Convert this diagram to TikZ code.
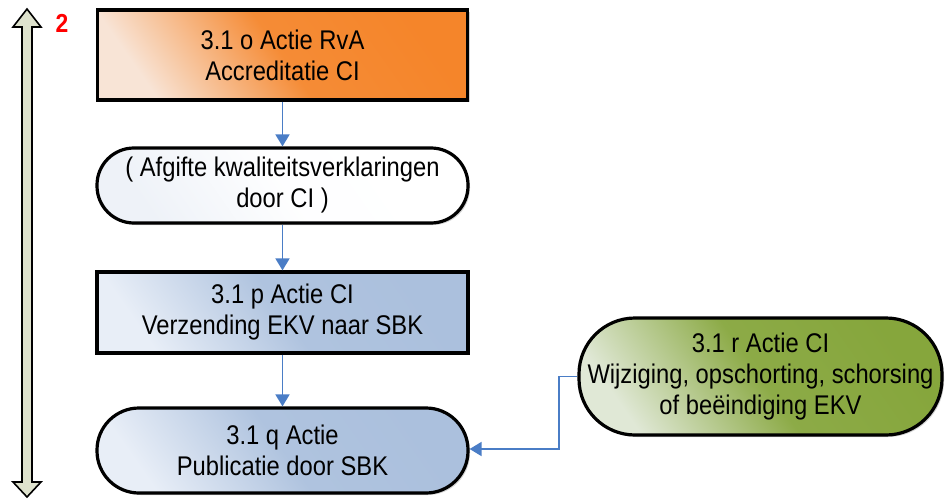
\documentclass[tikz,border=0pt]{standalone}
\usepackage{fontspec}
\setmainfont[FakeStretch=0.88]{Liberation Sans}
\usetikzlibrary{arrows.meta,shadows}
\definecolor{orangeD}{HTML}{F5852A}
\definecolor{orangeL}{HTML}{F8E4D6}
\definecolor{blueD}{HTML}{ABC0DD}
\definecolor{blueL}{HTML}{E8EEF7}
\definecolor{greenD}{HTML}{86A63C}
\definecolor{greenL}{HTML}{E0E8D6}
\definecolor{whiteL}{HTML}{EEF2F8}
\definecolor{conn}{HTML}{4A7DC6}
\definecolor{khaki}{HTML}{DEE2CD}
\tikzset{
  box/.style={draw=black, line width=3.2pt, align=center, inner sep=0pt,
    font=\fontsize{27}{31}\selectfont, text=black,
    drop shadow={shadow xshift=2pt, shadow yshift=-2pt, opacity=0.35}},
  stadium/.style={box, rounded corners=#1},
  flow/.style={draw=conn, line width=1.8pt, -{Triangle[width=14pt,length=12pt]}},
  diag/.style 2 args={left color=#1, right color=#2, middle color=#2!93!#1, shading angle=125},
}
\begin{document}
\begin{tikzpicture}[x=1pt,y=-1pt]
\useasboundingbox (0,0) rectangle (947,500);
% left double arrow
\draw[fill=khaki, line width=1.6pt, line join=miter]
  (27,9) -- (41,27) -- (32,27) -- (32,482) -- (41,482) -- (27,497)
  -- (13,482) -- (22,482) -- (22,27) -- (13,27) -- cycle;
\node[text=red, font=\bfseries\fontsize{26}{26}\selectfont] (num) at (62,23) {2};
% nodes
\node[box, minimum width=370, minimum height=90, diag={orangeL}{orangeD}] (o) at (282.5,55) {3.1 o Actie RvA\\Accreditatie CI};
\node[stadium=37pt, minimum width=371, minimum height=75, diag={whiteL}{white}] (ak) at (282.5,185.5) {( Afgifte kwaliteitsverklaringen\\door CI )};
\node[box, minimum width=371, minimum height=81, diag={blueL}{blueD}] (p) at (282.5,312.5) {3.1 p Actie CI\\Verzending EKV naar SBK};
\node[stadium=42pt, minimum width=371, minimum height=85, diag={blueL}{blueD}] (q) at (282.5,450.5) {3.1 q Actie\\Publicatie door SBK};
\node[stadium=56pt, minimum width=363, minimum height=117, diag={greenL}{greenD}] (r) at (760.5,376.5) {3.1 r Actie CI\\Wijziging, opschorting, schorsing\\of beëindiging EKV};
% connectors
\draw[flow] (o.south) -- (ak.north);
\draw[flow] (ak.south) -- (p.north);
\draw[flow] (p.south) -- (q.north);
\coordinate (bend) at (559,376.5);
\draw[flow] (r.west) -- (bend) |- ([yshift=1.5pt]q.east);
\end{tikzpicture}
\end{document}
